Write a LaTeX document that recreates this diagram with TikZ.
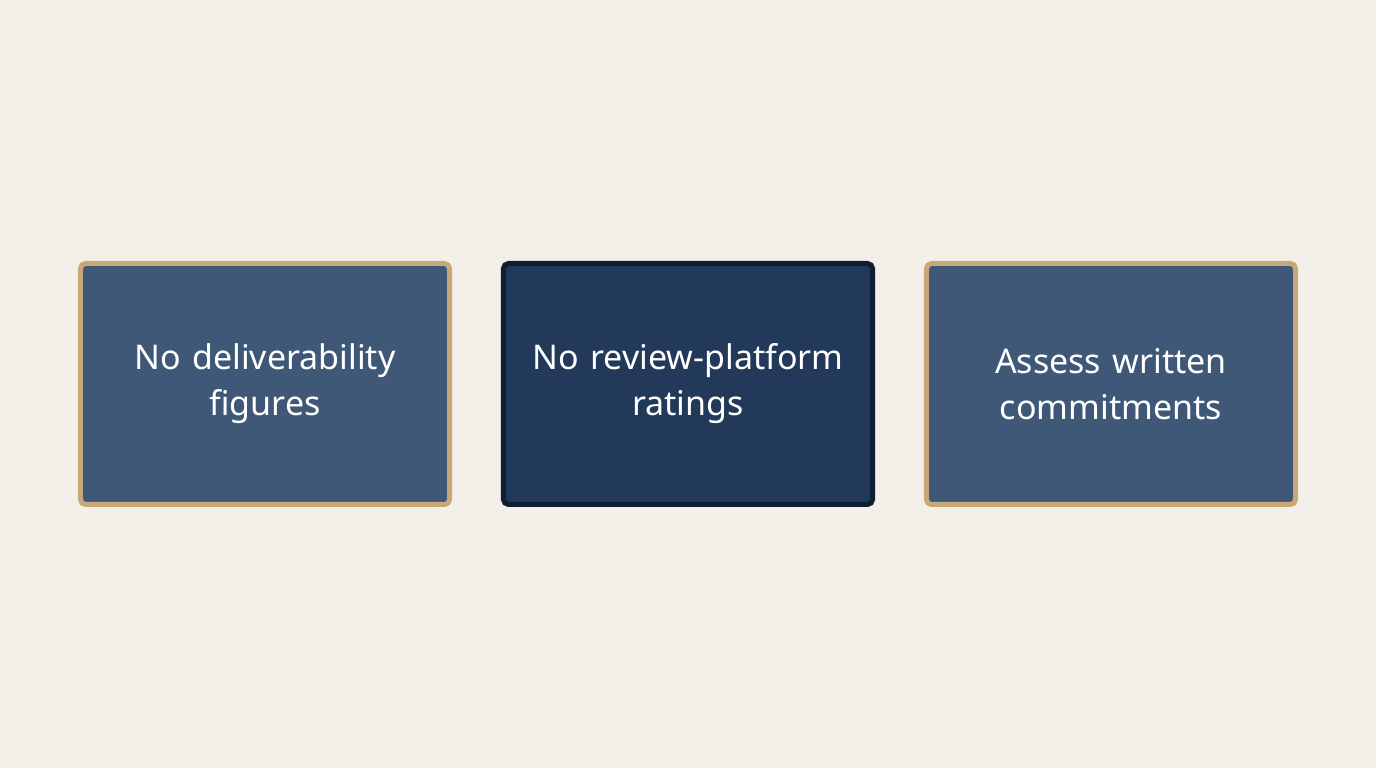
\documentclass[tikz,border=0pt]{standalone}
\usepackage{fontspec}
\setmainfont{Noto Sans}
\usetikzlibrary{matrix}
\definecolor{paper}{HTML}{F3F0E9}
\definecolor{slate}{HTML}{3F5878}
\definecolor{navy}{HTML}{22395A}
\definecolor{ink}{HTML}{0F1F33}
\definecolor{sand}{HTML}{C8A878}
\begin{document}
\begin{tikzpicture} [
  card/.style={
    draw=sand, fill=slate, line width=5pt, rounded corners=5pt, rectangle,
    minimum width=369pt, minimum height=241pt, text width=340pt, align=center,
    text=white, font=\fontsize{34}{46}\selectfont
  },
  focus/.style={card, fill=navy, draw=ink}
  ]
  \fill[paper] (0,0) rectangle (1376pt,768pt);
  \useasboundingbox (0,0) rectangle (1376pt,768pt);
  \matrix[column sep=49pt] at (688pt,384pt) {
    \node(c1)[card]{No deliverability\\figures}; &
    \node(c2)[focus]{No review-platform\\ratings}; &
    \node(c3)[card]{Assess written\\commitments}; \\
  };
\end{tikzpicture}
\end{document}
